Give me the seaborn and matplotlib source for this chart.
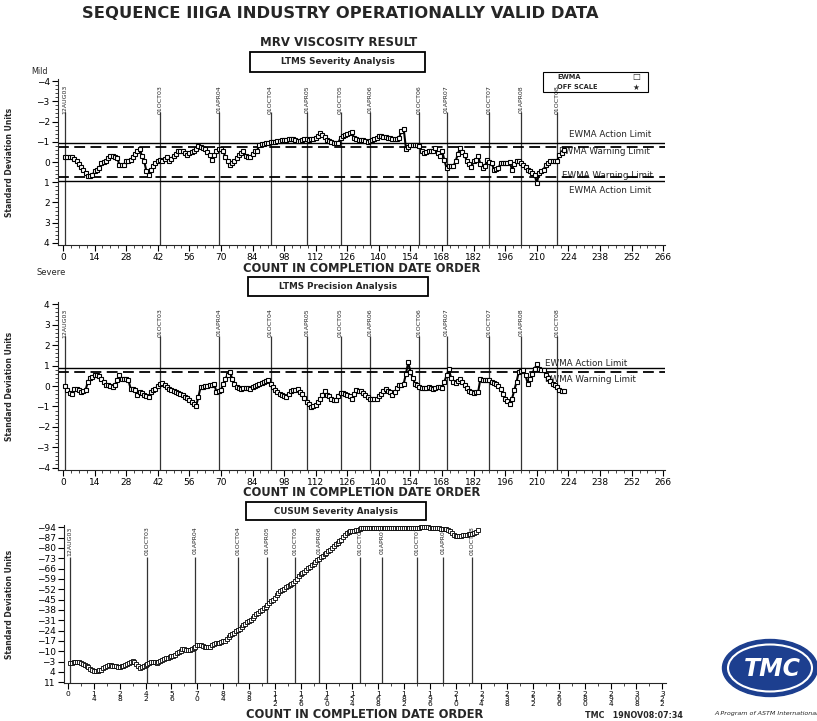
import matplotlib
matplotlib.use("Agg")
import matplotlib.pyplot as plt
import seaborn as sns
from matplotlib import font_manager
from matplotlib.ticker import AutoMinorLocator
from matplotlib.patches import Rectangle, Ellipse

sns.set_style("ticks")
plt.rcParams['font.family'] = ['DejaVu Sans']

_names = {f.name for f in font_manager.fontManager.ttflist}
narrow = 'Liberation Sans Narrow' if 'Liberation Sans Narrow' in _names else 'DejaVu Sans'

# ---- data ----
count = list(range(1, 223))

severity = [
    -0.23, -0.25, -0.27, -0.25, -0.14, -0.03, 0.10, 0.25, 0.40, 0.55,
    0.71, 0.68, 0.66, 0.46, 0.38, 0.30, 0.05, -0.01, -0.07, -0.20,
    -0.28, -0.28, -0.25, -0.20, 0.13, 0.13, 0.13, -0.03, -0.07, -0.11,
    -0.25, -0.40, -0.53, -0.66, -0.30, -0.03, 0.46, 0.66, 0.40, 0.21,
    0.05, -0.07, -0.11, -0.03, -0.13, -0.23, -0.03, -0.15, -0.30, -0.40,
    -0.53, -0.53, -0.53, -0.45, -0.36, -0.45, -0.50, -0.53, -0.65, -0.78,
    -0.72, -0.69, -0.65, -0.50, -0.36, -0.11, -0.35, -0.53, -0.62, -0.66,
    -0.53, -0.25, -0.03, 0.13, 0.05, -0.03, -0.20, -0.36, -0.45, -0.53,
    -0.28, -0.25, -0.23, -0.38, -0.53, -0.53, -0.86, -0.88, -0.91, -0.94,
    -0.95, -0.97, -0.99, -1.01, -1.04, -1.06, -1.07, -1.09, -1.11, -1.13,
    -1.14, -1.16, -1.10, -1.05, -1.02, -1.10, -1.15, -1.12, -1.10, -1.13,
    -1.15, -1.20, -1.27, -1.44, -1.32, -1.22, -1.10, -1.02, -0.98, -0.94,
    -0.94, -0.94, -1.19, -1.27, -1.33, -1.39, -1.45, -1.49, -1.19, -1.14,
    -1.10, -1.10, -1.10, -1.04, -0.99, -1.02, -1.08, -1.15, -1.21, -1.27,
    -1.26, -1.24, -1.22, -1.19, -1.18, -1.16, -1.15, -1.15, -1.19, -1.55,
    -1.65, -0.66, -0.76, -0.82, -0.84, -0.86, -0.82, -0.78, -0.53, -0.45,
    -0.50, -0.56, -0.56, -0.56, -0.69, -0.45, -0.28, -0.56, -0.10, 0.30,
    0.21, 0.21, 0.21, -0.03, -0.40, -0.69, -0.48, -0.36, -0.03, 0.12,
    0.26, -0.05, -0.11, -0.28, 0.10, 0.30, 0.21, -0.11, 0.00, 0.05,
    0.38, 0.34, 0.30, 0.05, 0.05, 0.05, 0.05, 0.00, 0.38, 0.10,
    -0.03, -0.07, 0.05, 0.13, 0.25, 0.38, 0.46, 0.55, 0.63, 1.04,
    0.55, 0.45, 0.38, 0.13, 0.05, -0.03, -0.05, -0.07, -0.07, -0.33,
    -0.45, -0.58,
]

precision = [
    0.00, -0.20, -0.33, -0.38, -0.13, -0.15, -0.21, -0.29, -0.25, -0.21,
    0.20, 0.38, 0.44, 0.56, 0.52, 0.49, 0.36, 0.20, 0.07, 0.03,
    -0.02, -0.05, 0.03, 0.30, 0.56, 0.33, 0.36, 0.32, 0.28, -0.13,
    -0.17, -0.21, -0.46, -0.29, -0.35, -0.46, -0.50, -0.54, -0.29, -0.20,
    -0.13, 0.00, 0.08, 0.16, 0.03, -0.05, -0.13, -0.18, -0.26, -0.30,
    -0.34, -0.38, -0.46, -0.54, -0.60, -0.70, -0.80, -0.86, -0.98, -0.54,
    -0.05, -0.03, 0.00, 0.01, 0.03, 0.05, 0.11, -0.29, -0.25, -0.21,
    0.11, 0.35, 0.56, 0.69, 0.36, 0.10, -0.05, -0.10, -0.13, -0.12,
    -0.10, -0.12, -0.13, -0.05, 0.00, 0.03, 0.10, 0.16, 0.20, 0.23,
    0.28, 0.10, -0.05, -0.18, -0.29, -0.38, -0.46, -0.50, -0.54, -0.40,
    -0.25, -0.21, -0.18, -0.16, -0.30, -0.38, -0.60, -0.78, -0.90, -1.03,
    -1.00, -0.95, -0.80, -0.62, -0.45, -0.26, -0.42, -0.50, -0.62, -0.66,
    -0.70, -0.50, -0.33, -0.33, -0.38, -0.42, -0.50, -0.62, -0.40, -0.21,
    -0.24, -0.26, -0.36, -0.46, -0.55, -0.62, -0.62, -0.62, -0.62, -0.50,
    -0.38, -0.25, -0.13, -0.22, -0.29, -0.46, -0.29, -0.12, 0.03, 0.06,
    0.11, 0.60, 1.16, 0.69, 0.40, 0.11, 0.03, -0.05, -0.08, -0.10,
    -0.08, -0.05, -0.09, -0.13, -0.10, -0.07, -0.05, -0.10, 0.20, 0.52,
    0.82, 0.40, 0.20, 0.16, 0.25, 0.33, 0.20, 0.03, -0.12, -0.26,
    -0.30, -0.33, -0.31, -0.29, 0.36, 0.30, 0.28, 0.28, 0.28, 0.20,
    0.15, 0.11, 0.00, -0.13, -0.40, -0.62, -0.75, -0.86, -0.62, -0.20,
    0.20, 0.69, 0.73, 0.77, 0.52, 0.11, 0.35, 0.60, 0.85, 1.05,
    0.85, 0.80, 0.77, 0.55, 0.39, 0.25, 0.11, 0.03, -0.05, -0.21,
    -0.24, -0.26,
]

cusum = [
    -2.2, -2.3, -2.5, -2.8, -2.9, -2.6, -2.0, -1.6, -0.8, 0.2,
    0.9, 1.8, 2.5, 3.2, 3.5, 3.3, 3.0, 2.4, 1.6, 0.8,
    0.1, -0.5, -0.6, -0.3, 0.0, 0.3, 0.5, 0.7, 0.2, -0.3,
    -0.8, -1.5, -2.0, -2.9, -3.6, -3.0, -1.2, 0.3, 1.2, 0.4,
    -0.2, -0.8, -1.5, -2.0, -2.5, -2.9, -2.6, -2.3, -2.4, -3.5,
    -4.3, -4.9, -5.3, -5.7, -6.1, -6.5, -6.9, -7.8, -8.7, -9.5,
    -10.4, -11.3, -11.2, -10.9, -10.7, -11.0, -11.3, -12.0, -13.2, -14.2,
    -14.4, -14.3, -13.5, -12.6, -12.6, -12.9, -13.2, -14.0, -15.0, -15.4,
    -15.6, -15.9, -16.3, -16.7, -17.1, -18.4, -19.8, -20.7, -21.5, -22.6,
    -23.5, -24.3, -25.1, -26.4, -27.7, -28.7, -29.6, -30.5, -31.4, -32.7,
    -34.0, -35.0, -36.0, -37.0, -38.0, -39.0, -40.2, -41.4, -42.5, -43.8,
    -45.0, -46.2, -47.8, -49.3, -50.6, -51.6, -52.4, -53.2, -53.9, -54.6,
    -55.4, -56.3, -57.7, -59.2, -60.8, -62.0, -62.8, -63.8, -64.9, -66.1,
    -67.1, -68.1, -69.2, -70.4, -71.5, -72.6, -73.6, -74.6, -75.6, -76.5,
    -77.6, -78.9, -80.2, -81.6, -82.6, -83.6, -84.6, -85.6, -87.1, -88.6,
    -90.1, -90.9, -91.3, -91.5, -91.7, -91.9, -92.4, -92.8, -93.2, -93.5,
    -93.5, -93.6, -93.6, -93.5, -93.5, -93.6, -93.6, -93.5, -93.5, -93.5,
    -93.6, -93.6, -93.5, -93.5, -93.4, -93.5, -93.5, -93.5, -93.4, -93.3,
    -93.3, -93.3, -93.4, -93.5, -93.5, -93.5, -93.5, -93.5, -93.6, -93.8,
    -94.0, -94.1, -94.2, -94.2, -94.0, -93.8, -93.7, -93.6, -93.5, -93.4,
    -93.3, -93.1, -93.0, -92.9, -92.5, -92.0, -91.3, -90.0, -88.6, -87.8,
    -87.8, -87.8, -88.2, -88.5, -88.8, -89.0, -89.2, -89.4, -89.7, -90.3,
    -91.0, -92.0,
]

date_labels = ["12AUG03", "01OCT03", "01APR04", "01OCT04", "01APR05", "01OCT05",
               "01APR06", "01OCT06", "01APR07", "01OCT07", "01APR08", "01OCT08"]
date_counts = [1, 43, 69, 92, 108, 123, 136, 158, 170, 189, 203, 219]

sev_action, sev_warning = 0.96, 0.74
prec_action, prec_warning = 0.87, 0.68

# ---- figure ----
W, H = 817, 721
fig = plt.figure(figsize=(W / 100, H / 100), dpi=100)


def pbox(l, t, r, b):
    return [l / W, 1 - b / H, (r - l) / W, (b - t) / H]


def ftext(px, py, s, **kw):
    fig.text(px / W, 1 - py / H, s, **kw)


def framed(l, t, r, b, s):
    fig.patches.append(Rectangle((l / W, 1 - b / H), (r - l) / W, (b - t) / H,
                                 transform=fig.transFigure, fill=False,
                                 edgecolor='black', linewidth=1.3))
    ftext((l + r) / 2, (t + b) / 2, s, ha='center', va='center',
          fontsize=6.3, fontweight='bold')


def style(ax):
    sns.despine(ax=ax)
    for s in ['left', 'bottom']:
        ax.spines[s].set_linewidth(0.8)
    ax.tick_params(which='major', length=4, width=0.8, labelsize=6.5,
                   direction='out', pad=2, colors='black')
    ax.tick_params(which='minor', length=2, width=0.6, direction='out')
    ax.set_ylabel("Standard Deviation Units", fontsize=5.5, fontweight='bold',
                  family=narrow)


line_kw = dict(color='black', linewidth=1.5, marker='s', markersize=2.6,
               markerfacecolor='white', markeredgecolor='black',
               markeredgewidth=0.8, legend=False)

ax1 = fig.add_axes(pbox(58, 79, 665, 245))
ax2 = fig.add_axes(pbox(58, 302, 665, 470))
ax3 = fig.add_axes(pbox(64, 525, 666, 683))

# top: severity EWMA
sns.lineplot(x=count, y=severity, ax=ax1, zorder=4, **line_kw)
ax1.set_xlim(-2.2, 266.8)
ax1.set_ylim(4.1, -4.1)
ax1.set_xticks(range(0, 267, 14))
ax1.xaxis.set_minor_locator(AutoMinorLocator(4))
ax1.set_yticks(range(-4, 5))
ax1.yaxis.set_minor_locator(AutoMinorLocator(5))
for y in (-sev_action, sev_action):
    ax1.axhline(y, color='black', lw=1.0, zorder=2)
for y in (-sev_warning, sev_warning):
    ax1.axhline(y, color='black', lw=1.3, ls=(0, (6, 3)), zorder=2)
for d, lab in zip(date_counts, date_labels):
    ax1.vlines(d, -2.48, 4.1, color='#333333', lw=0.9, zorder=1)
    ax1.text(d, -3.8, lab, rotation=90, ha='center', va='top', fontsize=4.5,
             family=narrow)
lim_txt = dict(fontsize=6.3, va='center', ha='left', zorder=1)
ax1.text(224.3, -1.34, "EWMA Action Limit", **lim_txt)
ax1.text(220.0, -0.54, "EWMA Warning Limit", **lim_txt)
ax1.text(221.0, 0.69, "EWMA Warning Limit", **lim_txt)
ax1.text(224.3, 1.39, "EWMA Action Limit", **lim_txt)

# middle: precision EWMA
sns.lineplot(x=count, y=precision, ax=ax2, zorder=4, **line_kw)
ax2.set_xlim(-2.2, 266.8)
ax2.set_ylim(-4.1, 4.1)
ax2.set_xticks(range(0, 267, 14))
ax2.xaxis.set_minor_locator(AutoMinorLocator(4))
ax2.set_yticks(range(-4, 5))
ax2.yaxis.set_minor_locator(AutoMinorLocator(5))
ax2.axhline(prec_action, color='black', lw=1.0, zorder=2)
ax2.axhline(prec_warning, color='black', lw=1.3, ls=(0, (6, 3)), zorder=2)
for d, lab in zip(date_counts, date_labels):
    ax2.vlines(d, -4.1, 2.44, color='#333333', lw=0.9, zorder=1)
    ax2.text(d, 3.78, lab, rotation=90, ha='center', va='top', fontsize=4.5,
             family=narrow)
ax2.text(213.5, 1.11, "EWMA Action Limit", **lim_txt)
ax2.text(213.5, 0.33, "EWMA Warning Limit", **lim_txt)

# bottom: CUSUM
cusum_kw = dict(line_kw, linewidth=1.0, markersize=2.4, markeredgewidth=0.6)
sns.lineplot(x=count, y=cusum, ax=ax3, zorder=4, **cusum_kw)
ax3.set_xlim(-2.2, 324)
ax3.set_ylim(11.5, -95.5)
xt = list(range(0, 323, 14))
ax3.set_xticks(xt)
ax3.xaxis.set_minor_locator(AutoMinorLocator(2))
ax3.set_yticks(range(-94, 12, 7))
for d, lab in zip(date_counts, date_labels):
    ax3.vlines(d, -74, 11.5, color='#333333', lw=0.9, zorder=1)
    ax3.text(d, -94.7, lab, rotation=90, ha='center', va='top', fontsize=4.5,
             family=narrow)

for ax, xlab_y in ((ax1, -0.100), (ax2, -0.095), (ax3, -0.2)):
    style(ax)
    ax.set_xlabel("COUNT IN COMPLETION DATE ORDER", fontsize=8.3, fontweight='bold')
    ax.xaxis.set_label_coords(0.5, xlab_y)
ax3.set_xticklabels(["\n".join(str(v)) for v in xt], linespacing=0.82,
                    fontsize=5.4)
ax3.tick_params(axis='x', which='major', pad=1.5)
ax3.xaxis.label.set_va('center')
ax3.xaxis.set_label_coords(0.5, -(715 - 683) / 158)
ax1.yaxis.set_label_coords(-0.0725, 0.5)
ax2.yaxis.set_label_coords(-0.0725, 0.5)
ax3.yaxis.set_label_coords(-0.083, 0.5)

# ---- titles and boxes ----
ftext(340, 14, "SEQUENCE IIIGA INDUSTRY OPERATIONALLY VALID DATA", ha='center',
      va='center', fontsize=11.8, fontweight='bold')
ftext(339, 42, "MRV VISCOSITY RESULT", ha='center', va='center', fontsize=8.5,
      fontweight='bold')
framed(250, 52, 425, 72, "LTMS Severity Analysis")
framed(248, 277, 428, 296, "LTMS Precision Analysis")
framed(246, 502, 426, 520, "CUSUM Severity Analysis")

ftext(40, 72, "Mild", ha='center', va='center', fontsize=5.8)
ftext(51, 272, "Severe", ha='center', va='center', fontsize=6)

# legend box (top panel)
fig.patches.append(Rectangle((543 / W, 1 - 92 / H), 105 / W, 20 / H,
                             transform=fig.transFigure, fill=False,
                             edgecolor='black', linewidth=0.8))
ftext(557, 77, "EWMA", ha='left', va='center', fontsize=4.8, fontweight='bold')
ftext(557, 87, "OFF SCALE", ha='left', va='center', fontsize=4.8, fontweight='bold')
ftext(636, 77, "\u25a1", ha='center', va='center', fontsize=6)
ftext(636, 87, "\u2605", ha='center', va='center', fontsize=5.5)

# footer
ftext(634, 715, "TMC   19NOV08:07:34", ha='center', va='center', fontsize=5.8,
      fontweight='bold')

# TMC logo
blue = '#1d3f8f'
fig.patches.append(Ellipse((770 / W, 1 - 668 / H), 95 / W, 57 / H,
                           transform=fig.transFigure, facecolor=blue,
                           edgecolor=blue))
fig.patches.append(Ellipse((770 / W, 1 - 668 / H), 84 / W, 47 / H,
                           transform=fig.transFigure, facecolor='none',
                           edgecolor='white', linewidth=1.5))
ftext(772, 669, "TMC", ha='center', va='center', fontsize=17, fontweight='bold',
      style='italic', color='white')
ftext(766, 713, "A Program of ASTM International", ha='center', va='center',
      fontsize=4.6, style='italic')

fig.savefig("out.png", dpi=100)
